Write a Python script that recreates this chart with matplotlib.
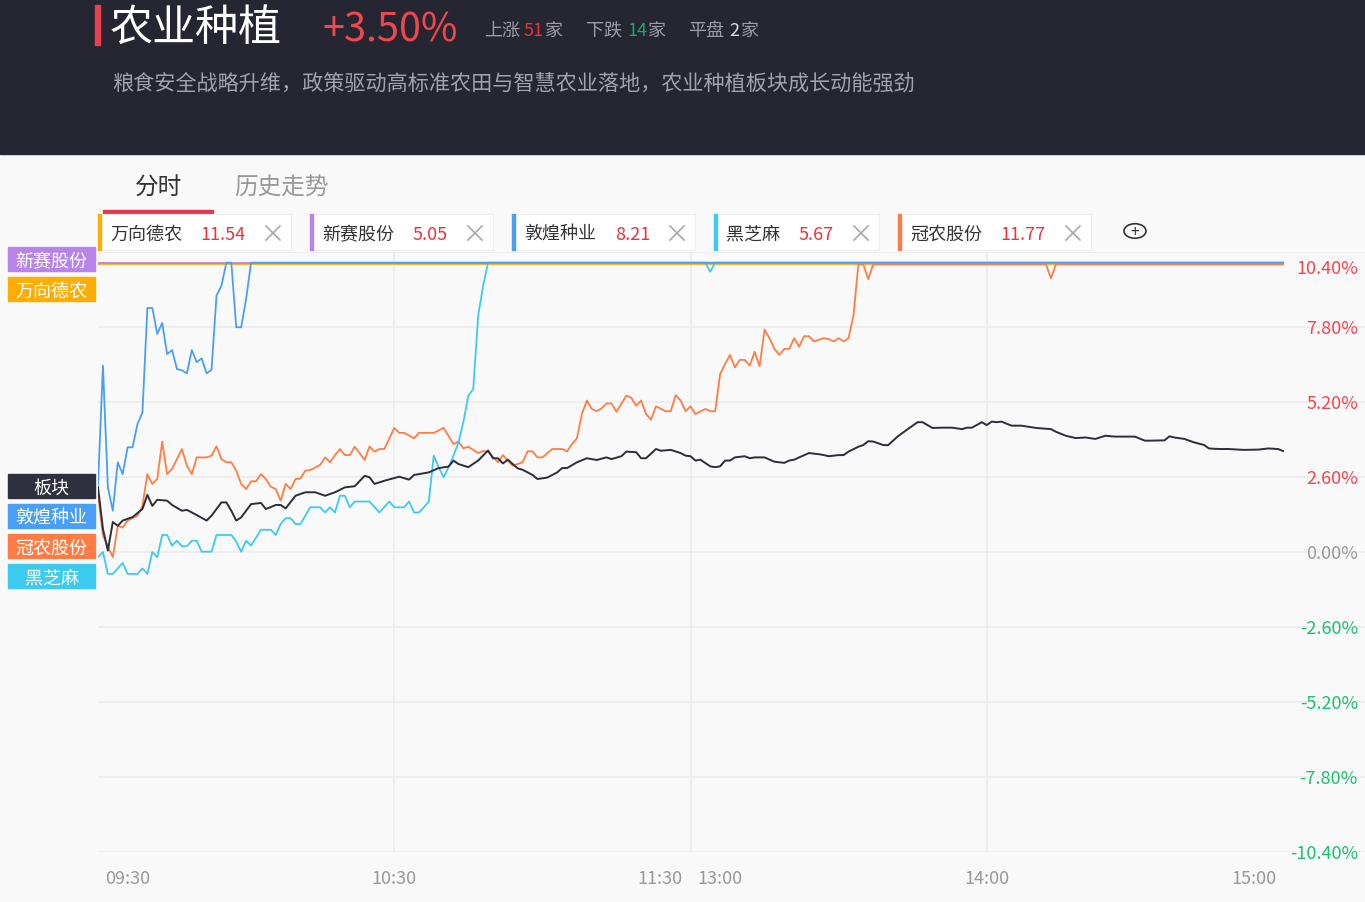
import numpy as np
import matplotlib
matplotlib.use('Agg')
import matplotlib.pyplot as plt
from matplotlib.patches import Rectangle, Circle
from matplotlib.lines import Line2D

plt.rcParams['font.family'] = ['Noto Sans CJK SC', 'DejaVu Sans']

W, H = 1365, 903

# ---- data (minutes since 09:30, afternoon continues at 120) ----
sector_t = [0, 1, 2, 3, 4, 5, 7, 9, 10, 11, 12, 14, 15, 17, 18, 20, 22, 23, 25, 26, 27, 28, 29, 31, 33, 34, 36, 37, 38,
            40, 42, 44, 46, 48, 50, 52, 54, 55, 56, 58, 61, 63, 64, 67, 69, 71, 72, 73, 75, 77, 79, 80, 81, 82, 83, 85,
            86, 88, 89, 91, 93, 94, 95, 97, 99, 101, 103, 104, 106, 107, 109, 110, 111, 113, 114, 116, 118, 119, 120,
            121, 122, 124, 125, 126, 127, 128, 129, 131, 132, 133, 135, 137, 139, 140, 141, 142, 144, 146, 147, 148,
            150, 151, 152, 154, 155, 156, 157, 159, 160, 162, 164, 166, 167, 169, 171, 173, 175, 176, 177, 179, 180,
            181, 182, 183, 185, 187, 190, 193, 194, 196, 198, 200, 202, 204, 206, 208, 210, 212, 213, 216, 217, 218,
            220, 222, 224, 225, 227, 229, 232, 235, 237, 239, 240]
sector_v = [2.24, 0.80, 0.05, 1.04, 0.91, 1.09, 1.21, 1.49, 1.98, 1.60, 1.81, 1.78, 1.63, 1.43, 1.46, 1.28, 1.09, 1.26,
            1.72, 1.72, 1.43, 1.09, 1.20, 1.66, 1.70, 1.49, 1.63, 1.63, 1.51, 1.95, 2.07, 2.07, 1.95, 2.07, 2.24, 2.28,
            2.64, 2.59, 2.36, 2.47, 2.61, 2.51, 2.67, 2.76, 2.91, 2.96, 3.17, 3.05, 2.94, 3.17, 3.52, 3.25, 3.25, 3.07,
            3.20, 2.90, 2.85, 2.67, 2.53, 2.58, 2.76, 2.91, 2.91, 3.11, 3.25, 3.19, 3.28, 3.22, 3.32, 3.48, 3.46, 3.25,
            3.25, 3.57, 3.51, 3.54, 3.43, 3.34, 3.32, 3.17, 3.20, 2.97, 2.94, 2.97, 3.17, 3.17, 3.28, 3.32, 3.25, 3.28,
            3.28, 3.13, 3.09, 3.17, 3.20, 3.28, 3.43, 3.39, 3.36, 3.32, 3.36, 3.36, 3.48, 3.65, 3.71, 3.84, 3.83, 3.71,
            3.70, 4.01, 4.26, 4.50, 4.50, 4.30, 4.31, 4.31, 4.26, 4.31, 4.31, 4.50, 4.40, 4.52, 4.50, 4.52, 4.38, 4.38,
            4.30, 4.26, 4.17, 4.03, 3.95, 3.97, 3.92, 4.03, 4.00, 4.00, 4.00, 3.86, 3.86, 3.87, 4.01, 3.97, 3.92, 3.80,
            3.71, 3.59, 3.57, 3.57, 3.54, 3.55, 3.59, 3.57, 3.50]

gn_t = [0, 1, 3, 4, 5, 6, 8, 9, 10, 11, 12, 13, 14, 15, 17, 18, 19, 20, 22, 23, 24, 25, 26, 27, 28, 29, 30, 31, 32, 33,
        34, 35, 36, 37, 38, 39, 40, 41, 42, 43, 45, 46, 47, 48, 49, 50, 51, 52, 54, 55, 56, 57, 58, 60, 61, 62, 64, 65,
        68, 70, 72, 73, 74, 75, 77, 78, 79, 81, 82, 83, 84, 86, 87, 88, 89, 90, 92, 94, 95, 96, 97, 98, 99, 100, 101,
        102, 103, 104, 105, 107, 108, 109, 110, 111, 112, 113, 115, 116, 117, 118, 119, 120, 121, 123, 124, 125, 126,
        127, 128, 129, 130, 131, 132, 133, 134, 135, 136, 137, 138, 139, 140, 141, 142, 143, 144, 145, 147, 148, 149,
        150, 151, 152, 153, 154, 155, 156, 157, 192, 193, 194, 240]
gn_v = [2.00, 0.57, -0.18, 0.91, 0.85, 1.09, 1.26, 1.60, 2.70, 2.36, 2.53, 3.83, 2.70, 2.88, 3.57, 2.99, 2.70, 3.28,
        3.28, 3.34, 3.66, 3.22, 3.11, 3.11, 2.82, 2.36, 2.18, 2.45, 2.45, 2.70, 2.53, 2.26, 2.18, 1.78, 2.36, 2.18,
        2.53, 2.55, 2.82, 2.84, 3.02, 3.28, 3.11, 3.36, 3.57, 3.36, 3.36, 3.65, 3.19, 3.66, 3.48, 3.57, 3.57, 4.30,
        4.13, 4.13, 3.94, 4.13, 4.13, 4.30, 3.74, 3.83, 3.59, 3.65, 3.43, 3.50, 3.48, 3.11, 3.36, 3.17, 2.99, 3.11,
        3.49, 3.49, 3.28, 3.28, 3.57, 3.57, 3.49, 3.74, 3.94, 4.78, 5.25, 4.96, 4.88, 4.98, 5.15, 5.15, 4.86, 5.42,
        5.35, 5.07, 5.25, 4.78, 4.59, 5.05, 4.88, 4.88, 5.44, 5.25, 4.88, 5.05, 4.78, 4.96, 4.88, 4.88, 6.17, 6.52,
        6.83, 6.40, 6.66, 6.66, 6.46, 6.94, 6.44, 7.71, 7.41, 7.04, 6.83, 7.04, 7.04, 7.41, 7.12, 7.48, 7.48, 7.30,
        7.41, 7.38, 7.30, 7.41, 7.30, 7.41, 8.19, 9.97, 9.97, 9.46, 9.97, 9.97, 9.49, 9.97, 9.97]

dh_t = [0, 1, 2, 3, 4, 5, 6, 7, 8, 9, 10, 11, 12, 13, 14, 15, 16, 17, 18, 19, 20, 21, 22, 23, 24, 25, 26, 27, 28, 29,
        30, 31, 240]
dh_v = [2.30, 6.46, 2.24, 1.43, 3.11, 2.70, 3.63, 3.63, 4.44, 4.84, 8.46, 8.46, 7.56, 7.94, 6.86, 7.00, 6.34, 6.30,
        6.19, 7.00, 6.58, 6.71, 6.19, 6.32, 8.89, 9.23, 10.03, 10.03, 7.79, 7.79, 8.77, 10.03, 10.03]

hzm_t = [0, 1, 2, 3, 5, 6, 8, 9, 10, 11, 12, 13, 14, 15, 16, 17, 18, 19, 20, 21, 23, 24, 27, 28, 29, 30, 31, 33, 35,
         36, 37, 38, 39, 40, 41, 43, 45, 46, 47, 48, 49, 50, 51, 52, 55, 57, 59, 60, 62, 63, 64, 65, 66, 67, 68, 69,
         70, 71, 72, 73, 74, 75, 76, 77, 78, 79, 123, 124, 125, 240]
hzm_v = [-0.18, 0.00, -0.76, -0.76, -0.38, -0.76, -0.76, -0.57, -0.76, 0.00, -0.18, 0.59, 0.59, 0.22, 0.39, 0.20,
         0.20, 0.39, 0.39, 0.01, 0.01, 0.59, 0.59, 0.36, 0.01, 0.39, 0.22, 0.77, 0.77, 0.59, 0.97, 1.17, 1.17, 0.97,
         0.97, 1.55, 1.55, 1.37, 1.55, 1.37, 1.95, 1.95, 1.55, 1.75, 1.75, 1.37, 1.75, 1.55, 1.55, 1.75, 1.37, 1.37,
         1.55, 1.75, 3.34, 2.94, 2.59, 2.94, 3.34, 3.80, 4.50, 5.42, 5.65, 8.19, 9.23, 10.03, 10.03, 9.72, 10.03, 10.03]

wx_t = [0, 240]
wx_v = [9.98, 9.98]
xs_t = [0, 240]
xs_v = [10.02, 10.02]

y_ticks = [10.4, 7.8, 5.2, 2.6, 0.0, -2.6, -5.2, -7.8, -10.4]
x_ticks = [0, 60, 120, 180, 240]
x_labels = ['09:30', '10:30', '11:30', '14:00', '15:00']

chips = [('万向德农', '11.54', '#ffad00'), ('新赛股份', '5.05', '#b884ea'), ('敦煌种业', '8.21', '#4a9ff5'),
         ('黑芝麻', '5.67', '#3ccbee'), ('冠农股份', '11.77', '#ff7d45')]
side_labels = [('新赛股份', '#b884ea', 260), ('万向德农', '#ffad00', 290), ('板块', '#2e303d', 487),
               ('敦煌种业', '#4a9ff5', 517), ('冠农股份', '#ff7d45', 547), ('黑芝麻', '#3ccbee', 577)]


def fx(x):
    return x / W


def fy(y):
    return 1 - y / H


fig = plt.figure(figsize=(W / 100, H / 100), dpi=100)
fig.patch.set_facecolor('#f9f9f9')

# header
fig.patches.append(Rectangle((0, fy(155)), 1, 155 / H, transform=fig.transFigure, color='#262633', zorder=0))
fig.patches.append(Rectangle((fx(95), fy(46)), 5 / W, 40 / H, transform=fig.transFigure, color='#e8404f'))
fig.text(fx(110), fy(29), '农业种植', color='white', fontsize=31, va='center')
fig.text(fx(322), fy(30), '+3.50%', color='#f0474f', fontsize=28.5, va='center')
stats = [(484, '上涨', '#9c9ca6'), (524, '51', '#e8343c'), (545, '家', '#9c9ca6'),
         (586, '下跌', '#9c9ca6'), (627, '14', '#1aa86a'), (648, '家', '#9c9ca6'),
         (688, '平盘', '#9c9ca6'), (729, '2', '#dddddd'), (741, '家', '#9c9ca6')]
for x, s, c in stats:
    fig.text(fx(x), fy(31), s, color=c, fontsize=13, va='center')
fig.text(fx(112), fy(84), '粮食安全战略升维，政策驱动高标准农田与智慧农业落地，农业种植板块成长动能强劲',
         color='#a3a3ac', fontsize=15.2, va='center')

# tabs
fig.text(fx(135), fy(188), '分时', color='#333333', fontsize=17, va='center')
fig.text(fx(234), fy(188), '历史走势', color='#999999', fontsize=17, va='center')
fig.patches.append(Rectangle((fx(103), fy(214)), 110 / W, 3 / H, transform=fig.transFigure, color='#e03a4a'))

# chips
chip_x = [98, 310, 512, 714, 898]
chip_w = [193, 183, 183, 165, 193]
for (name, val, c), x0, w in zip(chips, chip_x, chip_w):
    fig.patches.append(Rectangle((fx(x0), fy(251)), w / W, 36 / H, transform=fig.transFigure,
                                 facecolor='white', edgecolor='#eeeeee', lw=0.8))
    fig.patches.append(Rectangle((fx(x0), fy(251)), 3 / W, 36 / H, transform=fig.transFigure, color=c))
    fig.text(fx(x0 + 12), fy(235), name, color='#333333', fontsize=13, va='center')
    fig.text(fx(x0 + w - 45), fy(235), val, color='#e8343c', fontsize=13, va='center', ha='right')
    cx, cy = x0 + w - 18, 234
    for a, b in [((cx - 7, cy - 7), (cx + 7, cy + 7)), ((cx - 7, cy + 7), (cx + 7, cy - 7))]:
        fig.lines.append(Line2D([fx(a[0]), fx(b[0])], [fy(a[1]), fy(b[1])], transform=fig.transFigure,
                                color='#a8a8a8', lw=1.2))
fig.patches.append(Circle((fx(1135), fy(232)), 11 / W, transform=fig.transFigure, fill=False,
                          edgecolor='#333333', lw=1.2))
fig.text(fx(1135), fy(233), '+', color='#333333', fontsize=11, ha='center', va='center')

# chart
ax = fig.add_axes([fx(98), fy(853), (W - 98) / W, 600 / H])
ax.set_facecolor('#f9f9f9')
xmax = 240 * (W - 98) / (1283 - 98)
ax.set_xlim(0, xmax)
ax.set_ylim(-10.4, 10.4)
for s in ax.spines.values():
    s.set_visible(False)
ax.set_xticks([])
ax.set_yticks([])
for v in y_ticks:
    ax.axhline(v, color='#ececec', lw=1.2, zorder=0)
for t in [60, 120, 180]:
    ax.axvline(t, color='#ececec', lw=1.2, zorder=0)

ax.plot(wx_t, wx_v, color='#ffad00', lw=1.3)
ax.plot(xs_t, xs_v, color='#b884ea', lw=1.3)
ax.plot(gn_t, gn_v, color='#ff7d45', lw=1.3)
ax.plot(hzm_t, hzm_v, color='#3ccbee', lw=1.3)
ax.plot(dh_t, dh_v, color='#4a9ff5', lw=1.3)
ax.plot(sector_t, sector_v, color='#2c2e3a', lw=1.4)

# y labels
for v in y_ticks:
    c = '#f0474f' if v > 0 else ('#999999' if v == 0 else '#1fbf73')
    top = v == max(y_ticks)
    ax.annotate(f'{v:.2f}%', xy=(fx(1358), v), xycoords=('figure fraction', 'data'),
                xytext=(0, -5 if top else -1), textcoords='offset points',
                ha='right', va='top' if top else 'center', color=c, fontsize=13)

# x labels
x_ha = ['left', 'center', 'right', 'center', 'right']
x_off = [7, 0, -8, 0, -7]
for t, lab, ha, off in zip(x_ticks, x_labels, x_ha, x_off):
    ax.annotate(lab, xy=(t, -10.4), xytext=(off * 0.72, -18.5), textcoords='offset points',
                ha=ha, va='center', color='#999999', fontsize=13, annotation_clip=False)
ax.annotate('13:00', xy=(120, -10.4), xytext=(7 * 0.72, -18.5), textcoords='offset points',
            ha='left', va='center', color='#999999', fontsize=13, annotation_clip=False)

# side labels
for name, c, y in side_labels:
    fig.patches.append(Rectangle((fx(8), fy(y + 12)), 87 / W, 24 / H, transform=fig.transFigure, color=c))
    fig.text(fx(51.5), fy(y + 2), name, color='white', fontsize=13, ha='center', va='center')

fig.savefig('out.png', dpi=100, facecolor=fig.get_facecolor())
